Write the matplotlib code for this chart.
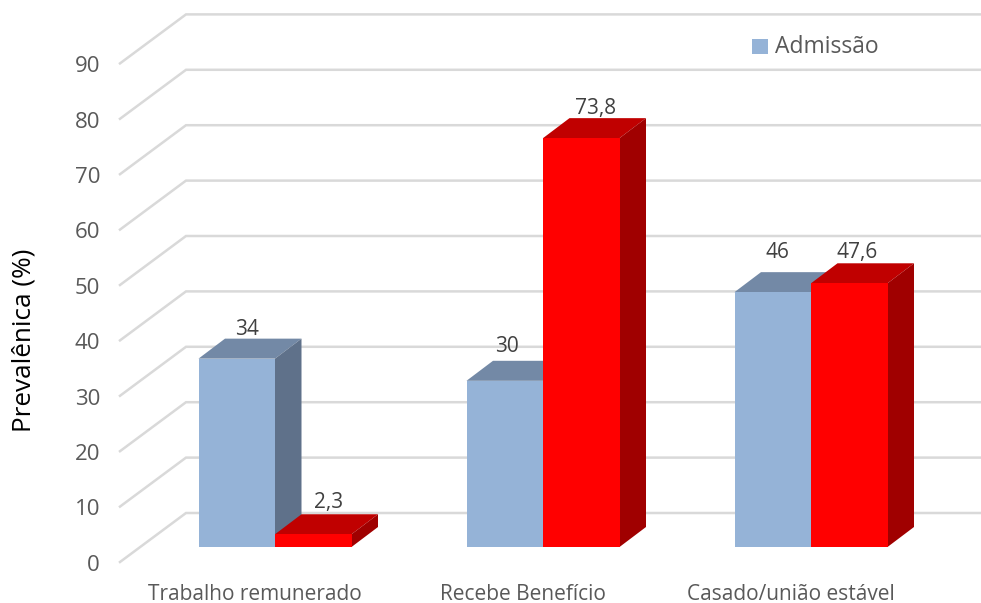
import matplotlib
matplotlib.use("Agg")
import matplotlib.pyplot as plt
from matplotlib.patches import Polygon

plt.rcParams['font.family'] = ['Open Sans', 'DejaVu Sans']

categories = ["Trabalho remunerado", "Recebe Benefício", "Casado/união estável"]
admissao = [34, 30, 46]
segundo = [2.3, 73.8, 47.6]
value_labels_a = ["34", "30", "46"]
value_labels_b = ["2,3", "73,8", "47,6"]
y_ticks = list(range(0, 100, 10))
legend_label = "Admissão"
y_title = "Prevalênica (%)"

W, H = 981, 603
PX_PER_CAT = 268.0
PX_PER_UNIT = 5.54
X0, Y0 = 275.0, 547.0  # pixel position of category 0 on the front floor

fig = plt.figure(figsize=(W / 100, H / 100), dpi=100, facecolor="white")
ax = fig.add_axes([0, 0, 1, 1])
ax.set_xlim((0 - X0) / PX_PER_CAT, (W - X0) / PX_PER_CAT)
ax.set_ylim((Y0 - H) / PX_PER_UNIT, Y0 / PX_PER_UNIT)
ax.axis("off")

bar_w = 76.5 / PX_PER_CAT
# oblique depth of the bars
dx, dy = 26.5 / PX_PER_CAT, 20 / PX_PER_UNIT
# wall and floor projection of the grid
wall_x, wall_y = (186 - X0) / PX_PER_CAT, 34 / PX_PER_UNIT
floor_x, floor_y = (120 - X0) / PX_PER_CAT, -15 / PX_PER_UNIT
right = (W - X0) / PX_PER_CAT

GRID = "#d9d9d9"
for v in y_ticks:
    ax.plot([floor_x, wall_x, right], [v + floor_y, v + wall_y, v + wall_y],
            color=GRID, lw=1.8, solid_joinstyle="miter", zorder=1)
    ax.text((100 - X0) / PX_PER_CAT, v + floor_y - 0.6, str(v), ha="right",
            va="center", fontsize=16, color="#595959")


def bar3d(left, value, front, top, side, z):
    ax.bar(left, value, width=bar_w, align="edge", color=front,
           edgecolor=None, linewidth=0, zorder=z + 0.2)
    right_edge = left + bar_w
    ax.add_patch(Polygon([(left, value), (right_edge, value),
                          (right_edge + dx, value + dy), (left + dx, value + dy)],
                         closed=True, facecolor=top, edgecolor="none", zorder=z))
    ax.add_patch(Polygon([(right_edge, 0), (right_edge + dx, dy),
                          (right_edge + dx, value + dy), (right_edge, value)],
                         closed=True, facecolor=side, edgecolor="none", zorder=z))


for i in range(len(categories)):
    bar3d(i - bar_w, admissao[i], "#95b3d7", "#7389a6", "#5f718a", 2 + i * 2)
    bar3d(i, segundo[i], "#ff0000", "#c00000", "#a00000", 3 + i * 2)

# data labels sit above the back edge of each bar top
offsets_a = [(10, 9), (2, 14), (5, 20)]
offsets_b = [(15, 12), (14, 10), (8, 11)]
for i in range(len(categories)):
    ax.annotate(value_labels_a[i], (i - bar_w / 2, admissao[i] + dy),
                xytext=offsets_a[i], textcoords="offset pixels",
                ha="center", va="center", fontsize=15, color="#404040", zorder=10)
    ax.annotate(value_labels_b[i], (i + bar_w / 2, segundo[i] + dy),
                xytext=offsets_b[i], textcoords="offset pixels",
                ha="center", va="center", fontsize=15, color="#404040", zorder=10)

for i, name in enumerate(categories):
    ax.annotate(name, (i, 0), xytext=(-20, -47), textcoords="offset pixels",
                ha="center", va="center", fontsize=15, color="#595959")

ax.text((24 - X0) / PX_PER_CAT, (Y0 - 340) / PX_PER_UNIT, y_title, rotation=90,
        ha="center", va="center", fontsize=18.8, color="black")

# legend entry placed by hand over the wall
ax.add_patch(Polygon([((752 - X0) / PX_PER_CAT, (Y0 - 39) / PX_PER_UNIT),
                      ((768 - X0) / PX_PER_CAT, (Y0 - 39) / PX_PER_UNIT),
                      ((768 - X0) / PX_PER_CAT, (Y0 - 54) / PX_PER_UNIT),
                      ((752 - X0) / PX_PER_CAT, (Y0 - 54) / PX_PER_UNIT)],
                     closed=True, facecolor="#95b3d7", edgecolor="none", zorder=10))
ax.text((775 - X0) / PX_PER_CAT, (Y0 - 47) / PX_PER_UNIT, legend_label,
        ha="left", va="center", fontsize=16.5, color="#595959", zorder=10)

fig.savefig("out.png", dpi=100, facecolor="white")
